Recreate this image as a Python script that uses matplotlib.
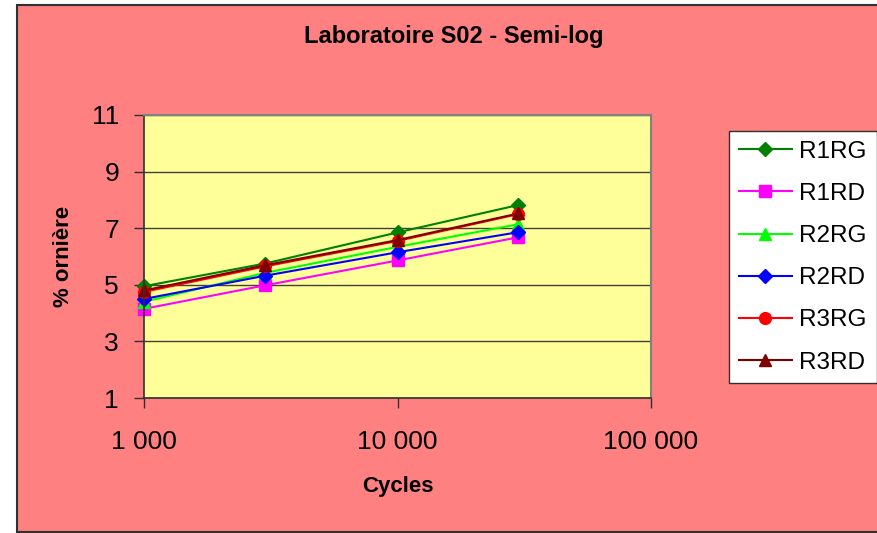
import matplotlib.pyplot as plt
from matplotlib.patches import Rectangle
from matplotlib.ticker import FixedLocator, NullLocator

plt.rcParams['font.family'] = ['Liberation Sans', 'DejaVu Sans']

# cycles and rut depth (%) per series
cycles = [1000, 3000, 10000, 30000]
r1rg = [4.95, 5.75, 6.85, 7.82]
r1rd = [4.15, 4.98, 5.86, 6.68]
r2rg = [4.40, 5.42, 6.34, 7.14]
r2rd = [4.50, 5.32, 6.15, 6.86]
r3rg = [4.75, 5.65, 6.55, 7.50]
r3rd = [4.80, 5.69, 6.58, 7.52]

series = [
    ('R1RG', r1rg, '#008000', 'D'),
    ('R1RD', r1rd, '#FF00FF', 's'),
    ('R2RG', r2rg, '#00FF00', '^'),
    ('R2RD', r2rd, '#0000FF', 'D'),
    ('R3RG', r3rg, '#FF0000', 'o'),
    ('R3RD', r3rd, '#800000', '^'),
]
xticks = [1000, 10000, 100000]
xlabels = ['1 000', '10 000', '100 000']
yticks = [1, 3, 5, 7, 9, 11]

fig = plt.figure(figsize=(8.77, 5.33), dpi=100, facecolor='white')
# pink chart area with dark border
fig.patches.append(Rectangle((17 / 877, 1 / 533), 1.2, (528 - 1) / 533,
                             transform=fig.transFigure, facecolor='#FF8080',
                             edgecolor='#303030', linewidth=1.5, zorder=-1))

ax = fig.add_axes([144 / 877, 1 - 398 / 533, (651 - 144) / 877, (398 - 115) / 533])
ax.set_facecolor('#FFFF99')

for name, vals, col, mk in series:
    ms = 8.5 if mk in ('s', '^', 'o') else 7.5
    ax.plot(cycles, vals, color=col, marker=mk, markersize=ms, linewidth=1.5,
            label=name, clip_on=False)

ax.set_xscale('log')
ax.set_xlim(1000, 100000)
ax.set_ylim(1, 11)
ax.xaxis.set_major_locator(FixedLocator(xticks))
ax.xaxis.set_minor_locator(NullLocator())
ax.set_xticklabels(xlabels)
ax.set_yticks(yticks)
ax.grid(axis='y', color='#404040', linewidth=1)
ax.set_axisbelow(True)

for s in ['top', 'right']:
    ax.spines[s].set_color('#808080')
    ax.spines[s].set_linewidth(1.5)
for s in ['left', 'bottom']:
    ax.spines[s].set_color('#303030')
    ax.spines[s].set_linewidth(1.2)

ax.tick_params(axis='both', direction='out', length=7, width=1, color='#303030',
               labelsize=19)
ax.tick_params(axis='y', pad=11)
ax.tick_params(axis='x', pad=16)

ax.set_xlabel('Cycles', fontsize=16, fontweight='bold', labelpad=16)
ax.set_ylabel('% ornière', fontsize=16, fontweight='bold', labelpad=13)
fig.text(454 / 877, 1 - 37 / 533, 'Laboratoire S02 - Semi-log', ha='center',
         va='center', fontsize=17, fontweight='bold')

leg = ax.legend(loc='upper left', bbox_to_anchor=(729 / 877, 1 - 131 / 533),
                bbox_transform=fig.transFigure, fontsize=17.5, frameon=True,
                fancybox=False, framealpha=1, edgecolor='#303030',
                labelspacing=0.83, handlelength=2.2, handletextpad=0.3,
                borderpad=0.4, borderaxespad=0)
leg.get_frame().set_linewidth(1)

fig.savefig('out.png', dpi=100, facecolor=fig.get_facecolor())
